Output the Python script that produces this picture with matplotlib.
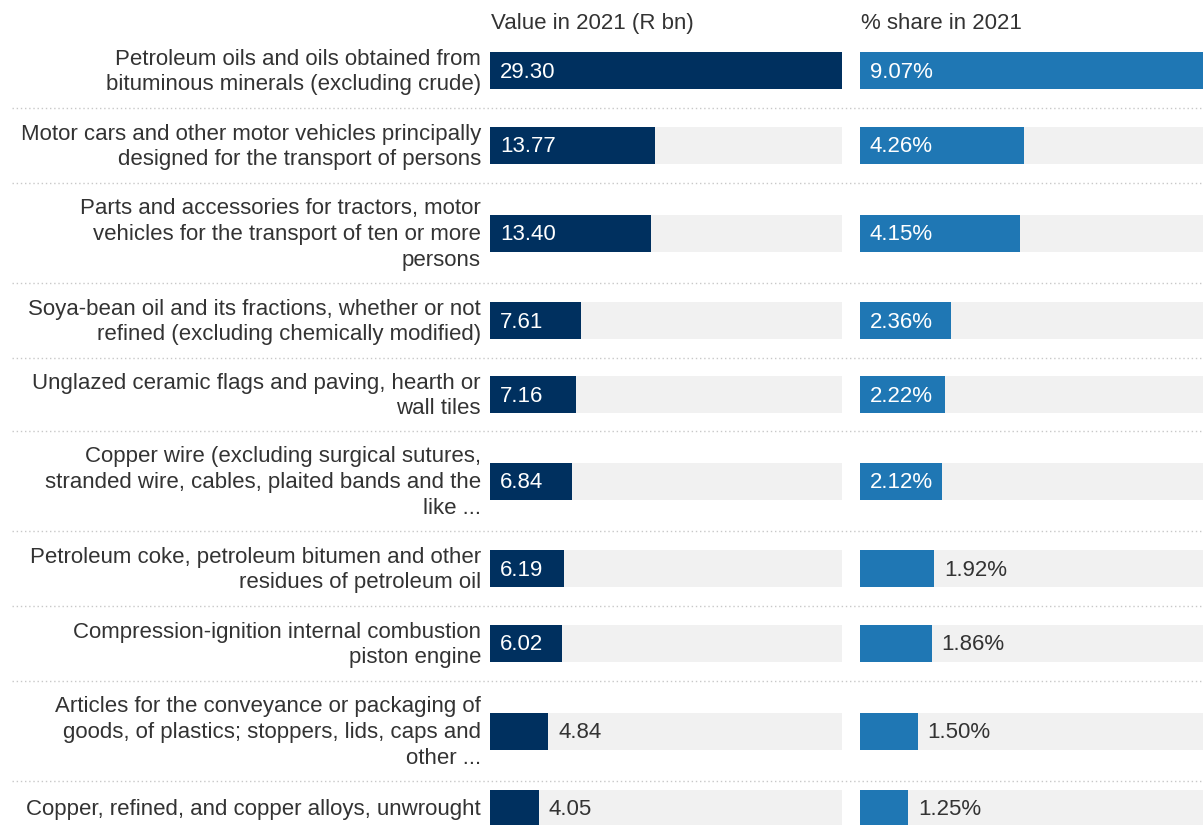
import matplotlib
matplotlib.use("Agg")
import matplotlib.pyplot as plt
import numpy as np

plt.rcParams['font.family'] = ['Liberation Sans', 'DejaVu Sans']

categories = [
    "Petroleum oils and oils obtained from\nbituminous minerals (excluding crude)",
    "Motor cars and other motor vehicles principally\ndesigned for the transport of persons",
    "Parts and accessories for tractors, motor\nvehicles for the transport of ten or more\npersons",
    "Soya-bean oil and its fractions, whether or not\nrefined (excluding chemically modified)",
    "Unglazed ceramic flags and paving, hearth or\nwall tiles",
    "Copper wire (excluding surgical sutures,\nstranded wire, cables, plaited bands and the\nlike ...",
    "Petroleum coke, petroleum bitumen and other\nresidues of petroleum oil",
    "Compression-ignition internal combustion\npiston engine",
    "Articles for the conveyance or packaging of\ngoods, of plastics; stoppers, lids, caps and\nother ...",
    "Copper, refined, and copper alloys, unwrought",
]
values = [29.30, 13.77, 13.40, 7.61, 7.16, 6.84, 6.19, 6.02, 4.84, 4.05]
shares = [9.07, 4.26, 4.15, 2.36, 2.22, 2.12, 1.92, 1.86, 1.50, 1.25]
col_titles = ["Value in 2021 (R bn)", "% share in 2021"]

W, H = 1203, 825
DPI = 100
FS = 16
TXT = "#333333"
NAVY = "#00305f"
BLUE = "#1f77b4"
GREY = "#f1f1f1"

# layout (pixels)
top0 = 33
row_h = [75, 75, 100, 75, 73, 100, 75, 75, 100, 54]
tops = top0 + np.concatenate([[0], np.cumsum(row_h)[:-1]])
centers = tops + np.array(row_h) / 2.0
seps = tops[1:]
bar_h = 37
TOFF = 1.5  # text vertical nudge (px)

fig = plt.figure(figsize=(W / DPI, H / DPI), dpi=DPI)
bg = fig.add_axes([0, 0, 1, 1])
bg.set_xlim(0, W)
bg.set_ylim(H, 0)
bg.axis('off')
for s in seps:
    bg.plot([12, W], [s, s], color="#c8c8c8", lw=1.0, ls=(0, (1, 2)))

# labels
for c, lab in zip(centers, categories):
    bg.text(481, c + TOFF, lab, ha='right', va='center', fontsize=FS, color=TXT,
            linespacing=1.30)

def panel(x0, x1, vmax, data, color, fmt, thresh, title):
    ax = fig.add_axes([x0 / W, 0, (x1 - x0) / W, 1])
    ax.set_xlim(0, vmax)
    ax.set_ylim(H, 0)
    ax.axis('off')
    ax.barh(centers, [vmax] * len(data), height=bar_h, color=GREY, lw=0)
    ax.barh(centers, data, height=bar_h, color=color, lw=0)
    px = vmax / (x1 - x0)
    for c, v in zip(centers, data):
        if v >= thresh:
            ax.text(10 * px, c + TOFF, fmt(v), ha='left', va='center', fontsize=FS,
                    color='white')
        else:
            ax.text(v + 10 * px, c + TOFF, fmt(v), ha='left', va='center', fontsize=FS,
                    color=TXT)
    bg.text(x0 + 1, 23.5, title, ha='left', va='center', fontsize=FS, color=TXT)
    return ax

panel(490, 842, 29.30, values, NAVY, lambda v: f"{v:.2f}", 5.5, col_titles[0])
panel(860, 1209, 9.07, shares, BLUE, lambda v: f"{v:.2f}%", 2.0, col_titles[1])

fig.savefig("out.png", dpi=DPI)
